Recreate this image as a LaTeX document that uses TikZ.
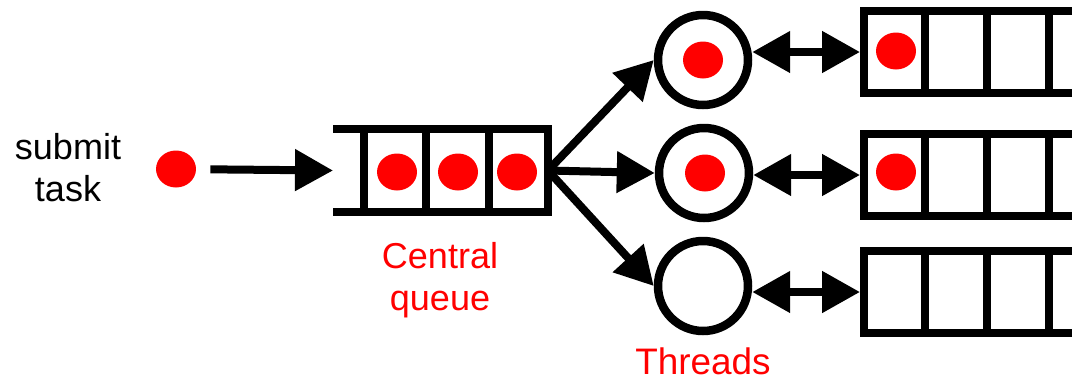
\documentclass[tikz,border=0pt]{standalone}
\usepackage{fontspec}
\setmainfont{Liberation Sans}
\usetikzlibrary{arrows.meta,shapes.geometric}
\tikzset{
	qline/.style={line width=0.16cm},
	thread/.style={circle, draw, line width=0.17cm, minimum size=1.8cm, inner sep=0pt},
	reddot/.style={ellipse, fill=red, minimum width=0.8cm, minimum height=0.74cm, inner sep=0pt},
	rq/.style={rectangle, draw, line width=0.16cm, minimum width=4.92cm, minimum height=1.64cm, inner sep=0pt},
	arr/.style={line width=0.16cm, -{Triangle[length=0.76cm, width=0.8cm]}},
	dbl/.style={line width=0.16cm, {Triangle[length=0.76cm, width=0.8cm]}-{Triangle[length=0.76cm, width=0.8cm]}},
	txt/.style={font=\fontsize{20.5pt}{24pt}\selectfont, align=center},
	lbl/.style={txt, text=red},
}
\begin{document}
\begin{tikzpicture}[x=0.02cm, y=-0.02cm]
	\useasboundingbox (0,0) rectangle (1072,380);
	\clip (0,0) rectangle (1072,380);

	\node[txt] (submit) at (68,168) {submit\\task};
	\node[reddot] (task) at (176,169) {};

	\node[minimum width=4.3cm, minimum height=1.66cm, inner sep=0pt, outer sep=0pt] (cq) at (440.5,170.5) {};
	\draw[qline] (cq.north west) -- (cq.north east) -- (cq.south east) -- (cq.south west);
	\draw[qline] (364,129) -- (364,212) (426,129) -- (426,212) (489,129) -- (489,212);
	\node[reddot] (c1) at (397,172) {};
	\node[reddot] (c2) at (458,172) {};
	\node[reddot] (c3) at (517,172) {};

	\node[thread] (t1) at (703,60) {};
	\node[thread] (t2) at (704,173) {};
	\node[thread] (t3) at (703,286) {};
	\node[reddot] (d1) at (703,60) {};
	\node[reddot] (d2) at (705,173) {};

	\node[rq] (q1) at (987,52) {};
	\node[rq] (q2) at (987,175) {};
	\node[rq] (q3) at (987,292) {};
	\draw[qline] (925,11) -- (925,93) (987,11) -- (987,93) (1049,11) -- (1049,93);
	\draw[qline] (925,134) -- (925,216) (987,134) -- (987,216) (1049,134) -- (1049,216);
	\draw[qline] (925,251) -- (925,333) (987,251) -- (987,333) (1049,251) -- (1049,333);
	\node[reddot] (e1) at (896,51) {};
	\node[reddot] (e2) at (896,172) {};

	\draw[arr, shorten <=0.28cm] (task) -- (cq.west);
	\draw[arr] (cq.east) -- (t1.west);
	\draw[arr] (cq.east) -- (t2.west);
	\draw[arr] (cq.east) -- (t3.west);
	\draw[dbl] (t1.east |- q1.west) -- (q1.west);
	\draw[dbl] (t2.east |- q2.west) -- (q2.west);
	\draw[dbl] (t3.east |- q3.west) -- (q3.west);

	\node[lbl] (cqname) at (440,280) {Central\\queue};
	\node[lbl, anchor=base, inner sep=0pt, font=\fontsize{21pt}{25pt}\selectfont] (tname) at (703,374) {Threads};
\end{tikzpicture}
\end{document}
